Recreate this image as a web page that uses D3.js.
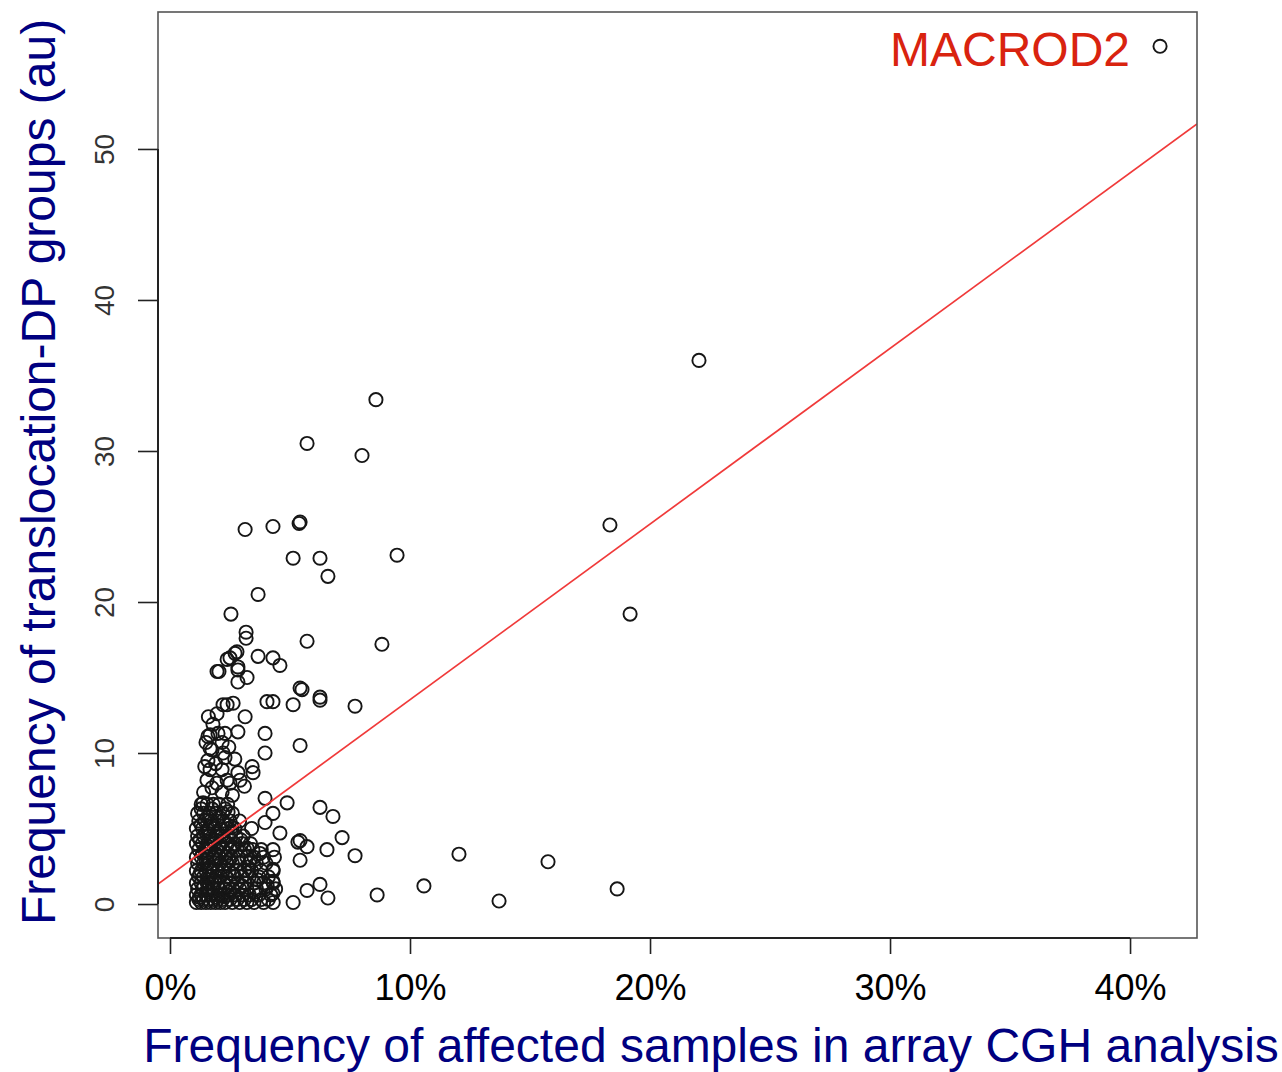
<!DOCTYPE html>
<html>
<head>
<meta charset="utf-8">
<script src="https://cdn.jsdelivr.net/npm/d3@7"></script>
<style>
  html, body { margin: 0; padding: 0; background: #fff; }
  svg { display: block; font-family: "Liberation Sans", Arial, Helvetica, sans-serif; }
</style>
</head>
<body>
<svg id="chart" width="1282" height="1072"></svg>
<script>
// Tick values
const xTicks = [0, 10, 20, 30, 40];          // % of affected samples
const yTicks = [0, 10, 20, 30, 40, 50];      // translocation-DP frequency (au)

// Fitted linear trend: freq = intercept + slope * pct
const fitIntercept = 1.9;
const fitSlope = 1.163;

// Highlighted gene
const highlight = { name: "MACROD2", pct: 41.25, freq: 56.8 };

// Isolated genes far from the main cluster  [pct, freq]
const outliers = [
  [22.04, 36.0], [8.58, 33.4], [5.71, 30.5], [8.0, 29.7],
  [3.13, 24.8], [4.29, 25.0], [5.38, 25.2], [5.42, 25.3], [18.33, 25.1],
  [5.13, 22.9], [6.25, 22.9], [9.46, 23.1], [6.58, 21.7],
  [3.67, 20.5], [19.17, 19.2], [2.54, 19.2],
  [5.71, 17.4], [8.83, 17.2],
  [10.58, 1.2], [12.04, 3.3], [13.71, 0.2], [15.75, 2.8], [18.63, 1.0],
  [8.63, 0.6]
];

// Genes in the column rising above the dense core  [pct, freq]
const column = [
  [3.17, 18.0], [3.17, 17.6], [2.79, 16.7], [2.5, 16.3], [3.67, 16.4],
  [4.29, 16.3], [4.58, 15.8], [1.96, 15.4], [2.04, 15.4], [2.83, 15.5],
  [3.21, 15.0], [2.83, 14.7], [2.71, 16.6], [2.38, 16.2], [2.83, 15.7],
  [5.42, 14.3], [5.5, 14.2], [6.25, 13.7], [6.25, 13.5], [4.04, 13.4],
  [4.29, 13.4], [5.13, 13.2], [7.71, 13.1], [2.38, 13.2], [2.63, 13.3],
  [2.21, 13.2], [1.96, 12.6], [3.13, 12.4], [1.79, 11.9],
  [1.67, 11.2], [2.0, 11.3], [2.29, 11.3], [2.83, 11.4], [3.96, 11.3],
  [1.58, 11.1], [5.42, 10.5], [3.96, 10.0], [1.67, 10.3], [2.17, 10.7],
  [2.21, 10.0], [1.75, 10.2], [1.58, 9.5], [2.29, 9.7],
  [1.67, 8.9], [2.17, 8.9], [2.83, 8.7], [3.42, 9.1], [3.46, 8.7],
  [1.54, 8.2], [2.38, 8.2], [2.92, 8.2], [2.5, 8.0], [1.75, 7.7],
  [2.17, 7.4], [1.38, 6.7], [3.96, 7.0], [4.88, 6.7], [6.25, 6.4],
  [6.79, 5.8], [4.29, 6.0], [3.96, 5.4], [4.58, 4.7], [5.42, 4.2],
  [5.71, 3.8], [6.54, 3.6], [7.17, 4.4], [7.71, 3.2], [5.42, 2.9],
  [6.25, 1.3], [5.71, 0.9], [6.58, 0.4], [5.13, 0.1],
  [4.29, 3.6], [4.29, 1.5], [4.29, 0.7], [4.29, 2.3],
  [2.58, 5.1], [2.42, 6.1], [3.21, 3.7], [5.33, 4.1],
  [1.45, 9.1], [1.9, 9.3], [1.4, 7.4], [1.95, 8.0], [2.6, 7.2], [3.1, 7.8],
  [1.6, 12.4], [2.45, 10.4], [2.7, 9.6], [1.5, 10.7]
];

// Dense core of genes with low frequencies  [pct, freq]
const core = [
  [1.1, 0.1], [1.3, 0.1], [1.5, 0.1], [1.7, 0.1], [1.9, 0.1], [2.1, 0.1], [2.3, 0.1],
  [2.6, 0.1], [2.9, 0.1], [3.2, 0.1], [3.5, 0.1], [3.9, 0.1], [4.3, 0.1],
  [1.2, 0.3], [1.4, 0.3], [1.6, 0.3], [1.8, 0.3], [2.0, 0.3], [2.2, 0.3], [2.5, 0.3],
  [2.8, 0.3], [3.1, 0.3], [3.4, 0.3], [3.8, 0.3], [4.1, 0.3],
  [1.1, 0.6], [1.3, 0.6], [1.5, 0.6], [1.75, 0.6], [2.0, 0.6], [2.2, 0.6], [2.4, 0.6],
  [2.7, 0.6], [3.0, 0.6], [3.3, 0.6], [3.7, 0.6], [4.2, 0.6],
  [1.15, 1.0], [1.35, 1.0], [1.6, 1.0], [1.8, 1.0], [2.05, 1.0], [2.3, 1.0], [2.6, 1.0],
  [2.9, 1.0], [3.2, 1.0], [3.6, 1.0], [4.0, 1.0], [4.4, 1.0],
  [1.1, 1.4], [1.3, 1.4], [1.55, 1.4], [1.75, 1.4], [2.0, 1.4], [2.25, 1.4], [2.5, 1.4],
  [2.8, 1.4], [3.1, 1.4], [3.5, 1.4], [3.9, 1.4], [4.3, 1.4],
  [1.2, 1.8], [1.4, 1.8], [1.65, 1.8], [1.9, 1.8], [2.1, 1.8], [2.35, 1.8], [2.7, 1.8],
  [3.0, 1.8], [3.3, 1.8], [3.7, 1.8], [4.1, 1.8],
  [1.1, 2.2], [1.3, 2.2], [1.5, 2.2], [1.75, 2.2], [2.0, 2.2], [2.2, 2.2], [2.45, 2.2],
  [2.8, 2.2], [3.1, 2.2], [3.4, 2.2], [3.8, 2.2], [4.3, 2.2],
  [1.15, 2.7], [1.4, 2.7], [1.6, 2.7], [1.85, 2.7], [2.1, 2.7], [2.35, 2.7], [2.6, 2.7],
  [2.9, 2.7], [3.3, 2.7], [3.6, 2.7], [4.0, 2.7],
  [1.1, 3.1], [1.3, 3.1], [1.55, 3.1], [1.8, 3.1], [2.05, 3.1], [2.3, 3.1], [2.55, 3.1],
  [2.85, 3.1], [3.2, 3.1], [3.5, 3.1], [3.9, 3.1], [4.35, 3.1],
  [1.2, 3.6], [1.45, 3.6], [1.7, 3.6], [1.95, 3.6], [2.2, 3.6], [2.5, 3.6], [2.8, 3.6],
  [3.1, 3.6], [3.45, 3.6], [3.8, 3.6],
  [1.1, 4.0], [1.35, 4.0], [1.6, 4.0], [1.85, 4.0], [2.1, 4.0], [2.4, 4.0], [2.7, 4.0],
  [3.0, 4.0], [3.35, 4.0],
  [1.15, 4.5], [1.4, 4.5], [1.65, 4.5], [1.9, 4.5], [2.15, 4.5], [2.45, 4.5], [2.75, 4.5],
  [3.05, 4.5],
  [1.1, 5.0], [1.35, 5.0], [1.6, 5.0], [1.85, 5.0], [2.1, 5.0], [2.4, 5.0], [2.7, 5.0],
  [3.4, 5.0],
  [1.2, 5.5], [1.45, 5.5], [1.7, 5.5], [1.95, 5.5], [2.2, 5.5], [2.5, 5.5], [2.9, 5.5],
  [1.15, 6.0], [1.4, 6.0], [1.65, 6.0], [1.9, 6.0], [2.2, 6.0], [2.6, 6.0],
  [1.3, 6.6], [1.55, 6.6], [1.8, 6.6], [2.05, 6.6], [2.4, 6.6],
  // extra genes filling the darkest part of the core
  [1.22, 0.45], [1.62, 0.8], [1.95, 0.45], [2.45, 0.8], [1.42, 1.2], [1.88, 1.6],
  [2.38, 1.2], [2.62, 2.0], [1.25, 2.0], [1.7, 2.45], [2.25, 2.45], [1.5, 2.9],
  [1.95, 2.9], [2.45, 2.9], [1.35, 3.35], [1.9, 3.35], [2.4, 3.35], [1.6, 3.8],
  [2.05, 3.8], [2.6, 3.8], [1.25, 4.25], [1.75, 4.25], [2.25, 4.25], [1.5, 4.75],
  [2.0, 4.75], [2.55, 4.75], [1.3, 5.25], [1.8, 5.25], [2.3, 5.25], [1.55, 5.75],
  [2.05, 5.75], [1.3, 6.3], [1.75, 6.3], [2.3, 6.3], [3.25, 2.45], [3.65, 1.6],
  [3.0, 1.2], [3.55, 0.8], [4.05, 1.2], [3.35, 2.9], [3.75, 3.35], [2.95, 4.25]
];

// Plot frame
const frame = { left: 158, right: 1197, top: 12, bottom: 938 };

const x = d3.scaleLinear().domain([-0.5, 42.79]).range([frame.left, frame.right]);
const y = d3.scaleLinear().domain([-2.25, 59.07]).range([frame.bottom, frame.top]);

const svg = d3.select("#chart");

// Points
const all = core.concat(column, outliers, [[highlight.pct, highlight.freq]]);
svg.append("g")
  .selectAll("circle")
  .data(all)
  .join("circle")
  .attr("cx", d => x(d[0]))
  .attr("cy", d => y(d[1]))
  .attr("r", 6.6)
  .attr("fill", "none")
  .attr("stroke", "#161616")
  .attr("stroke-width", 1.9);

// Trend line clipped to the frame
svg.append("clipPath").attr("id", "plotClip")
  .append("rect")
  .attr("x", frame.left).attr("y", frame.top)
  .attr("width", frame.right - frame.left).attr("height", frame.bottom - frame.top);

const [x0, x1] = x.domain();
svg.append("line")
  .attr("clip-path", "url(#plotClip)")
  .attr("x1", x(x0)).attr("y1", y(fitIntercept + fitSlope * x0))
  .attr("x2", x(x1)).attr("y2", y(fitIntercept + fitSlope * x1))
  .attr("stroke", "#f03a3a")
  .attr("stroke-width", 1.7);

// Frame box
svg.append("rect")
  .attr("x", frame.left).attr("y", frame.top)
  .attr("width", frame.right - frame.left).attr("height", frame.bottom - frame.top)
  .attr("fill", "none")
  .attr("stroke", "#555")
  .attr("stroke-width", 1.6);

// X axis
const xAxis = d3.axisBottom(x)
  .tickValues(xTicks)
  .tickSize(16)
  .tickPadding(20)
  .tickFormat(d => d + "%");
const gx = svg.append("g")
  .attr("transform", `translate(0,${frame.bottom})`)
  .call(xAxis);
gx.select(".domain")
  .attr("d", `M${x(xTicks[0])},0H${x(xTicks[xTicks.length - 1])}`)
  .attr("stroke", "#222").attr("stroke-width", 2);
gx.selectAll(".tick line").attr("stroke", "#222").attr("stroke-width", 1.6);
gx.selectAll(".tick text")
  .attr("font-size", 36)
  .attr("font-family", "Liberation Sans, Arial, sans-serif")
  .attr("fill", "#000");

// Y axis (labels parallel to the axis)
const yAxis = d3.axisLeft(y)
  .tickValues(yTicks)
  .tickSize(20)
  .tickFormat(d3.format("d"));
const gy = svg.append("g")
  .attr("transform", `translate(${frame.left},0)`)
  .call(yAxis);
gy.select(".domain")
  .attr("d", `M0,${y(yTicks[0])}V${y(yTicks[yTicks.length - 1])}`)
  .attr("stroke", "#222").attr("stroke-width", 2);
gy.selectAll(".tick line").attr("stroke", "#222").attr("stroke-width", 1.6);
gy.selectAll(".tick text")
  .attr("font-size", 28)
  .attr("font-family", "Liberation Sans, Arial, sans-serif")
  .attr("fill", "#333")
  .attr("x", null)
  .attr("text-anchor", "middle")
  .attr("transform", "translate(-54,0) rotate(-90)")
  .attr("dy", "0.36em");

// Highlight label
svg.append("text")
  .attr("x", x(highlight.pct) - 30)
  .attr("y", y(highlight.freq) + 20)
  .attr("text-anchor", "end")
  .attr("font-size", 48)
  .attr("fill", "#d9230f")
  .text(highlight.name);

// Axis titles
svg.append("text")
  .attr("x", 711)
  .attr("y", 1062)
  .attr("text-anchor", "middle")
  .attr("font-size", 48)
  .attr("fill", "#000080")
  .text("Frequency of affected samples in array CGH analysis");

svg.append("text")
  .attr("transform", "translate(55,472) rotate(-90)")
  .attr("text-anchor", "middle")
  .attr("font-size", 48)
  .attr("fill", "#000080")
  .text("Frequency of translocation-DP groups (au)");
</script>
</body>
</html>
